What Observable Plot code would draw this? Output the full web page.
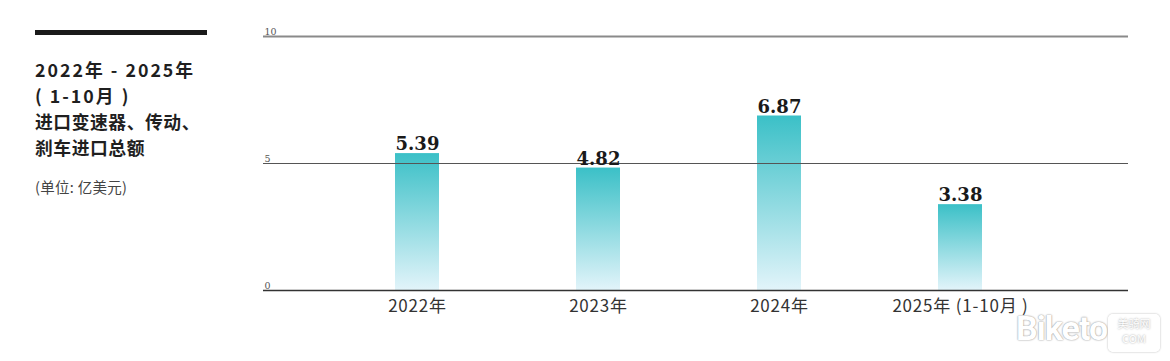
<!DOCTYPE html>
<html>
<head>
<meta charset="utf-8">
<script src="https://cdn.jsdelivr.net/npm/d3@7"></script>
<script src="https://cdn.jsdelivr.net/npm/@observablehq/plot@0.6"></script>
<style>
  html, body { margin: 0; padding: 0; background: #fff; }
  #wrap { position: relative; width: 1170px; height: 361px; overflow: hidden; }
  #chart { position: absolute; left: 0; top: 0; }
  #side { position: absolute; left: 35px; top: 30px; width: 190px; font-family: "Noto Sans CJK SC", "Noto Sans", sans-serif; }
  #bar { width: 172px; height: 5px; background: #1a1a1a; }
  #title { margin-top: 21px; font-size: 17.8px; font-weight: 700; color: #1f1f1f; letter-spacing: 0.55px; }
  #title div { height: 26px; line-height: 26px; white-space: nowrap; }
  #title .l1 { letter-spacing: 2px; }
  #sub { margin-top: 16px; font-size: 14.5px; color: #444; letter-spacing: 0.3px; }
  #wm { position: absolute; left: 1016px; top: 308px; font-family: "Liberation Sans Narrow", "Roboto", sans-serif; font-weight: 700; font-size: 34px; color: #fff; text-shadow: 0 0 2px #999, 0 0 1px #aaa; letter-spacing: -1px; }
  #wm2 { position: absolute; left: 1108px; top: 314px; width: 48px; height: 34px; border: 2px solid #fff; border-radius: 5px; box-shadow: 0 0 2px #aaa; font-family: "Noto Sans CJK SC", sans-serif; font-size: 11px; color: #fff; text-align: center; line-height: 15px; text-shadow: 0 0 2px #999; }
</style>
</head>
<body>
<div id="wrap">
  <div id="chart"></div>
  <div id="side">
    <div id="bar"></div>
    <div id="title"><div class="l1">2022年 - 2025年</div><div class="l1">( 1-10月 )</div><div>进口变速器、传动、</div><div>刹车进口总额</div></div>
    <div id="sub">(单位: 亿美元)</div>
  </div>
  <div id="wm">Biketo</div>
  <div id="wm2">美骑网<br>COM</div>
</div>
<script>
const categories = ["2022年", "2023年", "2024年", "2025年 (1-10月 )"];
const values = [5.39, 4.82, 6.87, 3.38];
const valueLabels = ["5.39", "4.82", "6.87", "3.38"];
const yTicks = [0, 5, 10];

const data = categories.map((c, i) => ({category: c, value: values[i], label: valueLabels[i]}));

const plot = Plot.plot({
  width: 1170,
  height: 361,
  marginLeft: 263,
  marginRight: 42,
  marginTop: 36,
  marginBottom: 71,
  x: {domain: categories, range: [326.5, 1050.5], paddingInner: 0.757, paddingOuter: 0.3785, axis: null},
  y: {domain: [0, 10], axis: null},
  style: {background: "transparent"},
  marks: [
    Plot.barY(data, {x: "category", y: "value", fill: "url(#barGrad)"}),
    Plot.ruleY([10], {stroke: "#8a8a8a", strokeWidth: 2}),
    Plot.ruleY([5], {stroke: "#555", strokeWidth: 1.2}),
    Plot.ruleY([0], {stroke: "#333", strokeWidth: 1.6}),
    Plot.text(yTicks, {y: d => d, text: d => String(d), frameAnchor: "left", textAnchor: "start", dx: 1, dy: -5, fontSize: 9.5, fill: "#555", fontFamily: "DejaVu Serif, serif"}),
    Plot.text(data, {x: "category", y: "value", text: "label", dy: -9, fontSize: 18, fontWeight: "bold", fill: "#1a1a1a", fontFamily: "DejaVu Serif, serif"}),
    Plot.text(data, {x: "category", text: "category", frameAnchor: "bottom", dy: 21, fontSize: 17, fill: "#333", fontFamily: "Noto Sans CJK SC, sans-serif"})
  ]
});

const defs = d3.select(plot).insert("defs", ":first-child");
const g = defs.append("linearGradient").attr("id", "barGrad").attr("x1", 0).attr("y1", 0).attr("x2", 0).attr("y2", 1);
g.append("stop").attr("offset", "0%").attr("stop-color", "#3bc0c7");
g.append("stop").attr("offset", "100%").attr("stop-color", "#e2f4fa");

d3.select(plot).selectAll("text").filter(function() { return /年/.test(this.textContent); }).style("letter-spacing", "0.8px");

document.getElementById("chart").appendChild(plot);
</script>
</body>
</html>
